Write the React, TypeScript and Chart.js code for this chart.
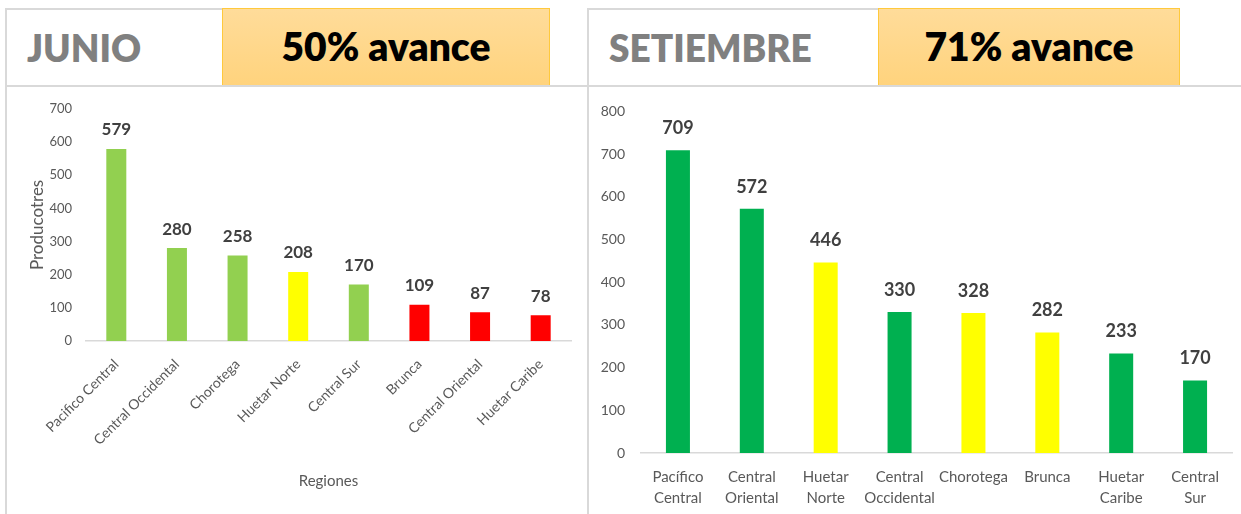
import React, { useEffect, useRef } from "react";
import { Chart, registerables } from "chart.js";

Chart.register(...registerables);

// ---------- DATA ----------
const junioRegions = [
  "Pacifico Central",
  "Central Occidental",
  "Chorotega",
  "Huetar Norte",
  "Central Sur",
  "Brunca",
  "Central Oriental",
  "Huetar Caribe",
];
const junioValues = [579, 280, 258, 208, 170, 109, 87, 78];
const junioStatus = ["verde", "verde", "verde", "amarillo", "verde", "rojo", "rojo", "rojo"];
const junioTickMax = 700;
const junioTickStep = 100;

const setiembreRegions = [
  ["Pacífico", "Central"],
  ["Central", "Oriental"],
  ["Huetar", "Norte"],
  ["Central", "Occidental"],
  ["Chorotega"],
  ["Brunca"],
  ["Huetar", "Caribe"],
  ["Central", "Sur"],
];
const setiembreValues = [709, 572, 446, 330, 328, 282, 233, 170];
const setiembreStatus = ["verde", "verde", "amarillo", "verde", "amarillo", "amarillo", "verde", "verde"];
const setiembreTickMax = 800;
const setiembreTickStep = 100;

const junioTitle = "JUNIO";
const junioAvance = "50% avance";
const setiembreTitle = "SETIEMBRE";
const setiembreAvance = "71% avance";
const yAxisTitle = "Producotres";
const xAxisTitle = "Regiones";

// ---------- STYLE ----------
const FONT = "Lato, 'Open Sans', sans-serif";
const junioPalette: Record<string, string> = { verde: "#92D050", amarillo: "#FFFF00", rojo: "#FF0000" };
const setiembrePalette: Record<string, string> = { verde: "#00B050", amarillo: "#FFFF00", rojo: "#FF0000" };

function valueLabelPlugin(offset: number, size: number) {
  return {
    id: "valueLabels",
    afterDatasetsDraw(chart: any) {
      const ctx = chart.ctx;
      const meta = chart.getDatasetMeta(0);
      const data = chart.data.datasets[0].data;
      ctx.save();
      ctx.font = `bold ${size}px ${FONT}`;
      ctx.fillStyle = "#404040";
      ctx.textAlign = "center";
      ctx.textBaseline = "middle";
      meta.data.forEach((bar: any, i: number) => {
        ctx.fillText(String(data[i]), bar.x, bar.y - offset);
      });
      ctx.restore();
    },
  };
}

function JunioChart() {
  const ref = useRef<HTMLCanvasElement>(null);
  useEffect(() => {
    const chart = new Chart(ref.current!, {
      type: "bar",
      data: {
        labels: junioRegions,
        datasets: [
          {
            data: junioValues,
            backgroundColor: junioStatus.map((s) => junioPalette[s]),
            barPercentage: 0.66,
            categoryPercentage: 0.5,
          },
        ],
      },
      options: {
        animation: false,
        responsive: false,
        devicePixelRatio: 1,
        layout: { padding: { top: 21, right: 16, bottom: 0, left: 0 } },
        plugins: { legend: { display: false }, tooltip: { enabled: false } },
        scales: {
          x: {
            grid: { display: false },
            border: { display: true, color: "#D9D9D9", width: 1.5 },
            ticks: {
              color: "#595959",
              font: { family: FONT, size: 14 },
              minRotation: 45,
              maxRotation: 45,
              padding: 7,
              autoSkip: false,
            },
            title: {
              display: true,
              text: xAxisTitle,
              color: "#595959",
              font: { family: FONT, size: 15 },
              padding: { top: 0, bottom: 24 },
            },
            afterFit: (s: any) => {
              s.height = 173;
            },
          },
          y: {
            min: 0,
            max: junioTickMax,
            grid: { display: false, drawTicks: false },
            border: { display: false },
            ticks: {
              stepSize: junioTickStep,
              color: "#595959",
              font: { family: FONT, size: 13 },
              padding: 14,
            },
            title: {
              display: true,
              text: yAxisTitle,
              color: "#595959",
              font: { family: FONT, size: 17 },
              padding: { top: 20, bottom: 0 },
            },
            afterFit: (s: any) => {
              s.width = 79;
            },
          },
        },
      },
      plugins: [valueLabelPlugin(19, 17)],
    });
    return () => chart.destroy();
  }, []);
  return (
    <canvas
      ref={ref}
      width={580}
      height={427}
      style={{ position: "absolute", left: 7, top: 87, width: 580, height: 427 }}
    />
  );
}

function SetiembreChart() {
  const ref = useRef<HTMLCanvasElement>(null);
  useEffect(() => {
    const chart = new Chart(ref.current!, {
      type: "bar",
      data: {
        labels: setiembreRegions,
        datasets: [
          {
            data: setiembreValues,
            backgroundColor: setiembreStatus.map((s) => setiembrePalette[s]),
            barPercentage: 0.65,
            categoryPercentage: 0.5,
          },
        ],
      },
      options: {
        animation: false,
        responsive: false,
        devicePixelRatio: 1,
        layout: { padding: { top: 21, right: 9, bottom: 0, left: 0 } },
        plugins: { legend: { display: false }, tooltip: { enabled: false } },
        scales: {
          x: {
            grid: { display: false },
            border: { display: true, color: "#D9D9D9", width: 1.5 },
            ticks: {
              color: "#595959",
              font: { family: FONT, size: 15, lineHeight: 1.4 },
              maxRotation: 0,
              minRotation: 0,
              padding: 6,
              autoSkip: false,
            },
            afterFit: (s: any) => {
              s.height = 61;
            },
          },
          y: {
            min: 0,
            max: setiembreTickMax,
            grid: { display: false, drawTicks: false },
            border: { display: false },
            ticks: {
              stepSize: setiembreTickStep,
              color: "#595959",
              font: { family: FONT, size: 14 },
              padding: 16,
            },
            afterFit: (s: any) => {
              s.width = 52;
            },
          },
        },
      },
      plugins: [valueLabelPlugin(22, 18)],
    });
    return () => chart.destroy();
  }, []);
  return (
    <canvas
      ref={ref}
      width={652}
      height={427}
      style={{ position: "absolute", left: 589, top: 87, width: 652, height: 427 }}
    />
  );
}

const GRAY = "#D9D9D9";
const orangeBox: React.CSSProperties = {
  position: "absolute",
  top: 8,
  height: 77,
  boxSizing: "border-box",
  border: "1.5px solid #FFC93C",
  borderBottom: "none",
  background: "linear-gradient(#FFDC9A, #FFD37D)",
  display: "flex",
  alignItems: "center",
  justifyContent: "center",
  fontFamily: FONT,
  fontWeight: 800,
  fontSize: 39,
  color: "#000",
  paddingBottom: 2,
};
const whiteBox: React.CSSProperties = {
  position: "absolute",
  top: 8,
  height: 78,
  boxSizing: "border-box",
  borderTop: `2px solid ${GRAY}`,
  borderLeft: `2px solid ${GRAY}`,
  display: "flex",
  alignItems: "center",
  paddingLeft: 20,
  paddingBottom: 2,
  fontFamily: FONT,
  fontWeight: 800,
  fontSize: 37,
  color: "#808080",
  background: "#fff",
};

export default function App() {
  return (
    <div
      style={{
        position: "absolute",
        left: 0,
        top: 0,
        width: 1241,
        height: 514,
        background: "#fff",
        overflow: "hidden",
      }}
    >
      {/* left panel frame */}
      <div style={{ position: "absolute", left: 5, top: 8, width: 2, height: 506, background: GRAY }} />
      <div style={{ ...whiteBox, left: 5, width: 218 }}>{junioTitle}</div>
      <div style={{ ...orangeBox, left: 222, width: 328 }}>{junioAvance}</div>
      {/* right panel frame */}
      <div style={{ position: "absolute", left: 587, top: 8, width: 2, height: 506, background: GRAY }} />
      <div style={{ ...whiteBox, left: 587, width: 292 }}>{setiembreTitle}</div>
      <div style={{ ...orangeBox, left: 878, width: 302 }}>{setiembreAvance}</div>
      {/* header bottom line */}
      <div style={{ position: "absolute", left: 5, top: 85, width: 1236, height: 2, background: GRAY }} />
      <JunioChart />
      <SetiembreChart />
    </div>
  );
}
